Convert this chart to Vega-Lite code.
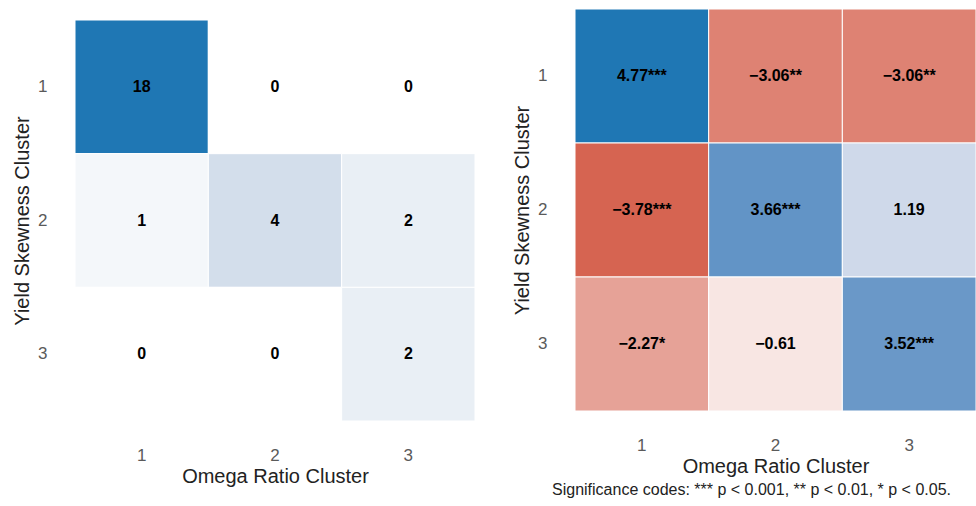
{
  "$schema": "https://vega.github.io/schema/vega-lite/v6.json",
  "padding": {"left": 12, "top": 8, "right": 0, "bottom": 0},
  "background": "white",
  "spacing": 36,
  "resolve": {"scale": {"color": "independent", "x": "independent", "y": "independent"}},
  "config": {
    "font": "Liberation Sans",
    "view": {"stroke": null},
    "axis": {
      "domain": false,
      "ticks": false,
      "grid": false,
      "labelFont": "Liberation Sans",
      "labelFontSize": 17,
      "labelColor": "#5a5a5a",
      "labelPadding": 28,
      "titleFont": "Liberation Sans",
      "titleFontSize": 20,
      "titleFontWeight": "normal",
      "titleColor": "#222222",
      "titlePadding": 5
    },
    "axisX": {"labelAngle": 0, "labelPadding": 26, "titlePadding": 3}
  },
  "datasets": {
    "counts": [
      {"omega": 1, "skew": 1, "count": 18},
      {"omega": 2, "skew": 1, "count": 0},
      {"omega": 3, "skew": 1, "count": 0},
      {"omega": 1, "skew": 2, "count": 1},
      {"omega": 2, "skew": 2, "count": 4},
      {"omega": 3, "skew": 2, "count": 2},
      {"omega": 1, "skew": 3, "count": 0},
      {"omega": 2, "skew": 3, "count": 0},
      {"omega": 3, "skew": 3, "count": 2}
    ],
    "resid": [
      {"omega": 1, "skew": 1, "value": 4.77, "label": "4.77***"},
      {"omega": 2, "skew": 1, "value": -3.06, "label": "−3.06**"},
      {"omega": 3, "skew": 1, "value": -3.06, "label": "−3.06**"},
      {"omega": 1, "skew": 2, "value": -3.78, "label": "−3.78***"},
      {"omega": 2, "skew": 2, "value": 3.66, "label": "3.66***"},
      {"omega": 3, "skew": 2, "value": 1.19, "label": "1.19"},
      {"omega": 1, "skew": 3, "value": -2.27, "label": "−2.27*"},
      {"omega": 2, "skew": 3, "value": -0.61, "label": "−0.61"},
      {"omega": 3, "skew": 3, "value": 3.52, "label": "3.52***"}
    ]
  },
  "hconcat": [
    {
      "width": 400,
      "height": 412,
      "data": {"name": "counts"},
      "encoding": {
        "x": {"field": "omega", "type": "ordinal", "title": "Omega Ratio Cluster", "scale": {"paddingInner": 0, "paddingOuter": 0}},
        "y": {"field": "skew", "type": "ordinal", "title": "Yield Skewness Cluster", "scale": {"paddingInner": 0, "paddingOuter": 0, "range": [11, 412]}}
      },
      "layer": [
        {
          "mark": {"type": "rect", "stroke": "white", "strokeWidth": 1},
          "encoding": {
            "color": {"field": "count", "type": "quantitative", "legend": null,
              "scale": {"domain": [0, 4, 18], "range": ["#ffffff", "#d3deeb", "#1f77b4"], "interpolate": "rgb"}}
          }
        },
        {
          "mark": {"type": "text", "fontWeight": "bold", "fontSize": 16, "color": "black", "font": "Liberation Sans"},
          "encoding": {"text": {"field": "count", "type": "quantitative"}}
        }
      ]
    },
    {
      "width": 401,
      "height": 402,
      "title": {"text": "Significance codes: *** p < 0.001, ** p < 0.01, * p < 0.05.", "orient": "bottom", "fontSize": 16, "fontWeight": "normal", "color": "#222222", "offset": 6, "anchor": "middle", "frame": "group", "dx": -24},
      "data": {"name": "resid"},
      "encoding": {
        "x": {"field": "omega", "type": "ordinal", "title": "Omega Ratio Cluster", "scale": {"paddingInner": 0, "paddingOuter": 0}},
        "y": {"field": "skew", "type": "ordinal", "title": "Yield Skewness Cluster", "scale": {"paddingInner": 0, "paddingOuter": 0}}
      },
      "layer": [
        {
          "mark": {"type": "rect", "stroke": "white", "strokeWidth": 1},
          "encoding": {
            "color": {"field": "value", "type": "quantitative", "legend": null,
              "scale": {"domain": [-4.77, 0, 1.19, 3.52, 4.77], "range": ["#cb3c24", "#ffffff", "#cfd9ea", "#6a98c8", "#1f77b4"], "interpolate": "rgb"}}
          }
        },
        {
          "mark": {"type": "text", "fontWeight": "bold", "fontSize": 16, "color": "black", "font": "Liberation Sans"},
          "encoding": {"text": {"field": "label", "type": "nominal"}}
        }
      ]
    }
  ]
}
